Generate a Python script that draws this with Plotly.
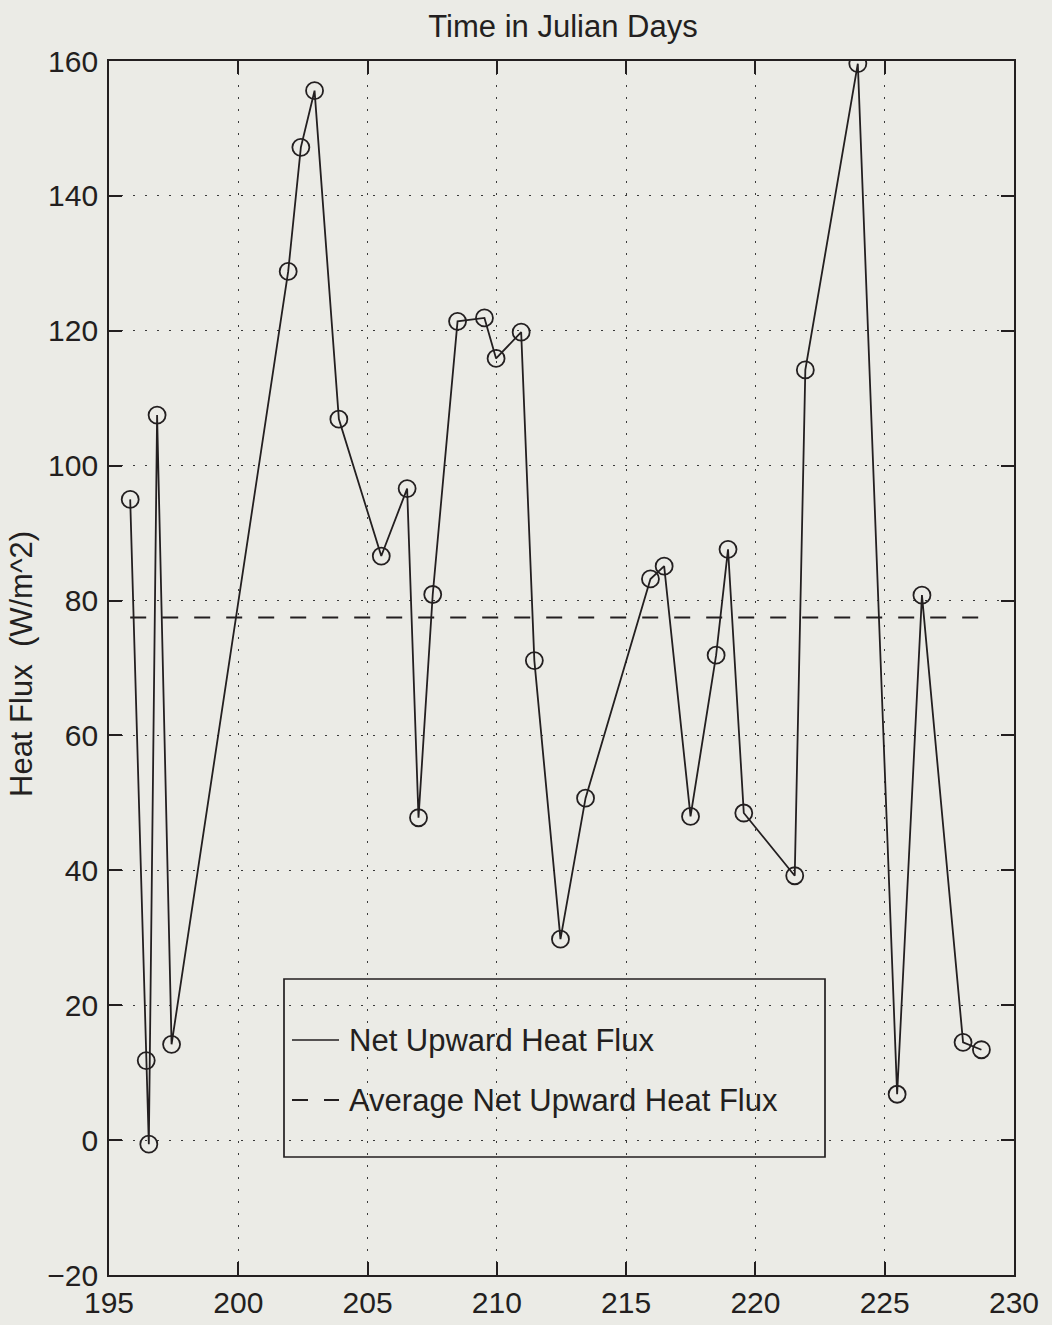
import plotly.graph_objects as go

# Julian day of each observation and the net upward heat flux (W/m^2)
julian_day = [195.82, 196.44, 196.54, 196.86, 197.42, 201.93, 202.42, 202.95,
              203.89, 205.53, 206.53, 206.97, 207.52, 208.48, 209.52, 209.97,
              210.94, 211.45, 212.46, 213.43, 215.94, 216.47, 217.49, 218.48,
              218.94, 219.55, 221.52, 221.93, 223.96, 225.48, 226.44, 228.03,
              228.74]
heat_flux = [95.0, 11.8, -0.6, 107.5, 14.2, 128.8, 147.2, 155.6,
             106.9, 86.6, 96.6, 47.8, 80.9, 121.4, 121.9, 115.9,
             119.8, 71.1, 29.8, 50.7, 83.2, 85.1, 48.0, 71.9,
             87.6, 48.5, 39.2, 114.2, 159.6, 6.8, 80.8, 14.5,
             13.4]
average_flux = 77.5

x_ticks = [195, 200, 205, 210, 215, 220, 225, 230]
y_ticks = [-20, 0, 20, 40, 60, 80, 100, 120, 140, 160]

series_names = ["Net Upward Heat Flux", "Average Net Upward Heat Flux"]

BG = "#EBEBE6"
INK = "#231f20"
FONT = "Liberation Sans, Arial, Helvetica, sans-serif"
AVG_DASH = "16px,16px"

W, H = 1052, 1325
ML, MR, MT, MB = 109, 38, 61, 50
PW, PH = W - ML - MR, H - MT - MB


def px_x(p):
    return (p - ML) / PW


def px_y(p):
    return (H - MB - p) / PH


fig = go.Figure()

fig.add_trace(go.Scatter(
    x=julian_day, y=heat_flux, mode="lines",
    line=dict(color=INK, width=1.8),
    name=series_names[0], showlegend=False,
))
fig.add_trace(go.Scatter(
    x=julian_day, y=heat_flux, mode="markers",
    marker=dict(symbol="circle-open", size=17, color=INK,
                line=dict(color=INK, width=1.8)),
    showlegend=False, hoverinfo="skip",
))
fig.add_trace(go.Scatter(
    x=[julian_day[0], julian_day[-1]], y=[average_flux, average_flux],
    mode="lines", line=dict(color=INK, width=2, dash=AVG_DASH),
    name=series_names[1], showlegend=False,
))

axis_common = dict(
    showline=True, linecolor=INK, linewidth=1.8, mirror="allticks",
    ticks="inside", ticklen=13, tickwidth=1.6, tickcolor=INK,
    showgrid=True, gridcolor="#3a3a3a", gridwidth=1.4, griddash="2px,10px",
    zeroline=False, tickfont=dict(family=FONT, size=30, color=INK),
    automargin=False,
)

fig.update_xaxes(range=[195, 230], tickvals=x_ticks, ticklabelstandoff=0,
                 **axis_common)
fig.update_yaxes(range=[-20, 160], tickvals=y_ticks, ticklabelstandoff=3,
                 **axis_common)

# y-axis label
fig.add_annotation(text="Heat Flux  (W/m^2)", xref="paper", yref="paper",
                   x=px_x(22), y=px_y(664), xanchor="center", yanchor="middle",
                   textangle=-90, showarrow=False,
                   font=dict(family=FONT, size=31, color=INK))

# legend: frame, line samples and labels
fig.add_shape(type="rect", xref="paper", yref="paper",
              x0=px_x(284), x1=px_x(825), y0=px_y(1157), y1=px_y(979),
              line=dict(color=INK, width=1.7), layer="above")
legend_rows = [(1040, None, 1.6), (1100, AVG_DASH, 2)]
for name, (row_y, dash, lw) in zip(series_names, legend_rows):
    fig.add_shape(type="line", xref="paper", yref="paper",
                  x0=px_x(292), x1=px_x(339), y0=px_y(row_y), y1=px_y(row_y),
                  line=dict(color=INK, width=lw, dash=dash), layer="above")
    fig.add_annotation(text=name, xref="paper", yref="paper",
                       x=px_x(347), y=px_y(row_y), xanchor="left",
                       yanchor="middle", showarrow=False,
                       font=dict(family=FONT, size=31, color=INK))

fig.update_layout(
    width=W, height=H,
    margin=dict(l=ML, r=MR, t=MT, b=MB),
    paper_bgcolor=BG, plot_bgcolor=BG,
    title=dict(text="Time in Julian Days", x=px_x(563), xanchor="center",
               xref="paper", y=1 - 26 / H, yanchor="middle", yref="container",
               font=dict(family=FONT, size=31, color=INK)),
    showlegend=False,
)

fig.write_html("out.html")
